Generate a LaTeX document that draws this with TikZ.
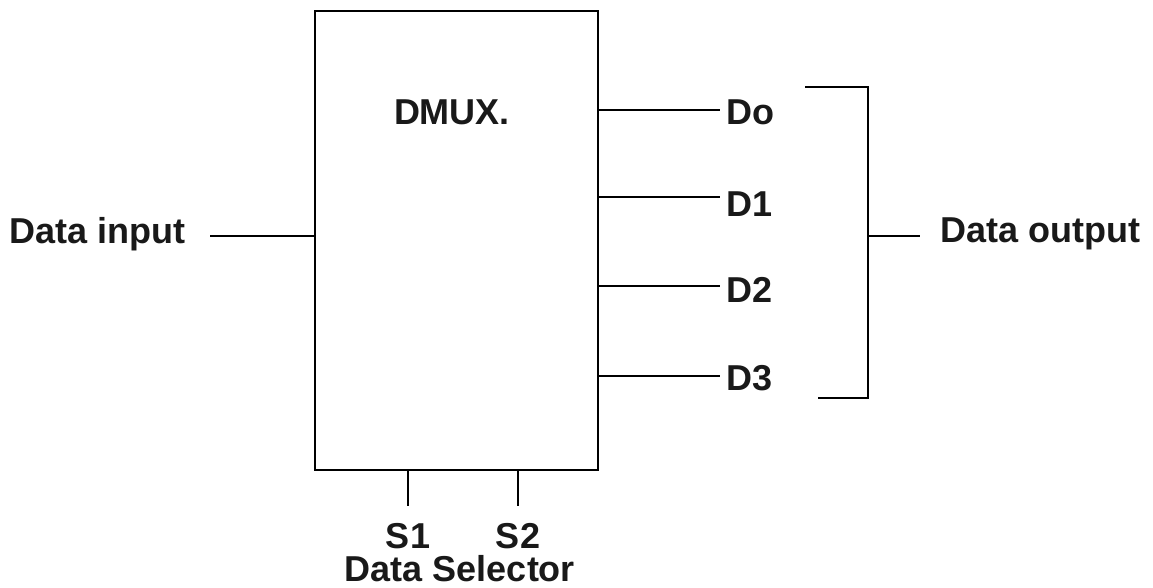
\documentclass[tikz,border=0pt]{standalone}
\usepackage{fontspec}
\setmainfont{Liberation Sans}
\begin{document}
\begin{tikzpicture}[x=1pt,y=-1pt,
  lbl/.style={font=\fontsize{36}{42}\selectfont\bfseries, inner sep=0pt, text=black!90},
  wire/.style={line width=1.8pt},
  boxst/.style={draw, line width=2.2pt, minimum width=283pt, minimum height=459pt, inner sep=0pt}]
\useasboundingbox (0,0) rectangle (1153,588);
\node[lbl] (dmux) at (452,112) {DMUX.};
\node[boxst] (box) at (456.5,240.5) {};
\node[lbl, anchor=west] (din) at (9,234) {Data input};
\coordinate (dinend) at (210,236);
\draw[wire] (dinend) -- (box.west |- dinend);
\node[lbl, anchor=west] (d0) at (726,112) {Do};
\node[lbl, anchor=west] (d1) at (726,204) {D1};
\node[lbl, anchor=west] (d2) at (726,290) {D2};
\node[lbl, anchor=west] (d3) at (726,378) {D3};
\coordinate (e0) at (720,110);
\coordinate (e1) at (720,197);
\coordinate (e2) at (720,286);
\coordinate (e3) at (720,376);
\foreach \i in {0,1,2,3} \draw[wire] (box.east |- e\i) -- (e\i);
\coordinate (bt) at (805,87);
\coordinate (bb) at (818,398);
\draw[wire] (bt) -- (868,87) -- (868,398) -- (bb);
\coordinate (bm) at (868,236);
\coordinate (bo) at (920,236);
\draw[wire] (bm) -- (bo);
\node[lbl, anchor=west] (dout) at (940,234) {Data output};
\node[lbl] (s1) at (408,536) {S1};
\node[lbl] (s2) at (518,536) {S2};
\coordinate (s1t) at (408,506);
\coordinate (s2t) at (518,506);
\draw[wire] (box.south -| s1t) -- (s1t);
\draw[wire] (box.south -| s2t) -- (s2t);
\node[lbl] (dsel) at (460,569) {Data Selector};
\end{tikzpicture}
\end{document}
